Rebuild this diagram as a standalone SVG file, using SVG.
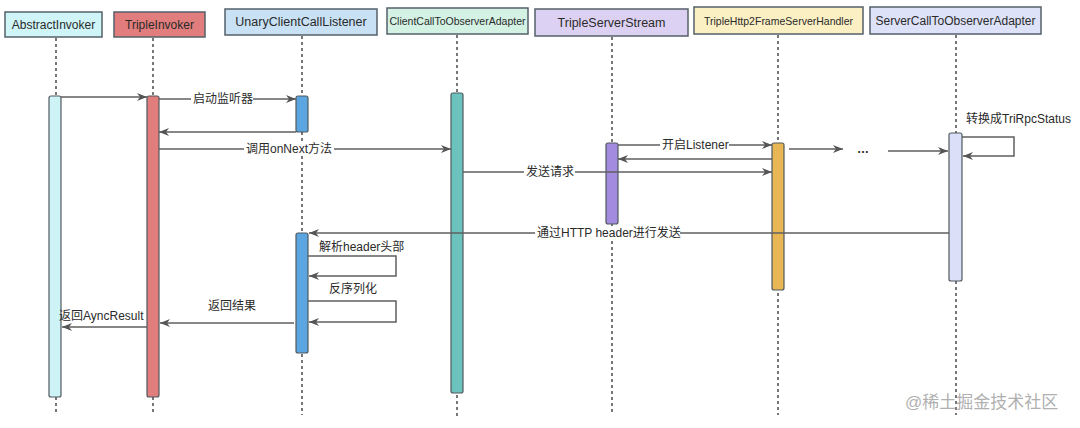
<svg xmlns="http://www.w3.org/2000/svg" width="1080" height="428" viewBox="0 0 1080 428">
<defs>
<marker id="ah" viewBox="0 0 10 10" refX="10" refY="5" markerWidth="10" markerHeight="10" markerUnits="userSpaceOnUse" orient="auto">
<path d="M0,1 L10,5 L0,9 L3,5 Z" fill="#555"/>
</marker>
</defs>
<style>
.hdr{stroke:#56606a;stroke-width:1.5}
.ht{font-family:"Liberation Sans","Noto Sans CJK SC",sans-serif;fill:#2a2a2a;text-anchor:middle;dominant-baseline:central}
.life{stroke:#555;stroke-width:1.6;stroke-dasharray:3,3;fill:none}
.act{stroke:#50595e;stroke-width:1.2}
.msg{stroke:#5f5f5f;stroke-width:1.5;fill:none;marker-end:url(#ah)}
.lbl{font-family:"Liberation Sans","Noto Sans CJK SC",sans-serif;font-size:12px;fill:#2a2a2a;dominant-baseline:central}
.bg{fill:#fff}
</style>
<rect width="1080" height="428" fill="#fff"/>

<g id="lifelines">
<line class="life" x1="56" y1="38" x2="56" y2="96"/><line class="life" x1="56" y1="397" x2="56" y2="412"/>
<line class="life" x1="153" y1="38" x2="153" y2="96"/><line class="life" x1="153" y1="397" x2="153" y2="412"/>
<line class="life" x1="302" y1="36" x2="302" y2="415"/>
<line class="life" x1="457" y1="35" x2="457" y2="418"/>
<line class="life" x1="612" y1="37" x2="612" y2="415"/>
<line class="life" x1="778" y1="35" x2="778" y2="415"/>
<line class="life" x1="956" y1="35" x2="956" y2="415"/>
</g>

<g id="AbstractInvoker">
<rect class="hdr" x="5" y="12" width="97" height="25" fill="#cff5f8"/>
<text class="ht" x="53.5" y="24.5" font-size="12">AbstractInvoker</text>
<rect class="act" x="49" y="96" width="12" height="301" rx="2" fill="#cdf3f7"/>
</g>
<g id="TripleInvoker">
<rect class="hdr" x="114" y="12" width="91" height="25" fill="#e27d7d"/>
<text class="ht" x="159.5" y="24.5" font-size="12">TripleInvoker</text>
<rect class="act" x="147" y="96" width="12" height="301" rx="2" fill="#e27d7d"/>
</g>
<g id="UnaryClientCallListener">
<rect class="hdr" x="225" y="9" width="152" height="26" fill="#c8e1f4"/>
<text class="ht" x="301" y="22" font-size="12.5">UnaryClientCallListener</text>
<rect class="act" x="296" y="96" width="12" height="36" rx="2" fill="#5ba5e0"/>
<rect class="act" x="296" y="233" width="12" height="120" rx="2" fill="#5ba5e0"/>
</g>
<g id="ClientCallToObserverAdapter">
<rect class="hdr" x="387" y="8" width="141" height="26" fill="#d4f2e4"/>
<text class="ht" x="457.5" y="21" font-size="10.5">ClientCallToObserverAdapter</text>
<rect class="act" x="451" y="93" width="12" height="300" rx="2" fill="#6cc3be"/>
</g>
<g id="TripleServerStream">
<rect class="hdr" x="535" y="9" width="153" height="27" fill="#ddd1f3"/>
<text class="ht" x="611.5" y="23" font-size="12.5">TripleServerStream</text>
<rect class="act" x="606" y="143" width="12" height="81" rx="2" fill="#a38be0"/>
</g>
<g id="TripleHttp2FrameServerHandler">
<rect class="hdr" x="694" y="7" width="169" height="27" fill="#fbf0c3"/>
<text class="ht" x="778.5" y="20.5" font-size="10.5">TripleHttp2FrameServerHandler</text>
<rect class="act" x="772" y="143" width="12" height="147" rx="2" fill="#e8b654"/>
</g>
<g id="ServerCallToObserverAdapter">
<rect class="hdr" x="870" y="7" width="171" height="27" fill="#dde2f8"/>
<text class="ht" x="955.5" y="20.5" font-size="12">ServerCallToObserverAdapter</text>
<rect class="act" x="949" y="133" width="13" height="148" rx="2" fill="#dcdff8"/>
</g>

<g id="connectors">
<line class="msg" x1="61" y1="97" x2="147" y2="97"/>
<line class="msg" x1="159" y1="99" x2="296" y2="99"/>
<line class="msg" x1="296" y1="132" x2="159" y2="132"/>
<line class="msg" x1="159" y1="149" x2="451" y2="149"/>
<line class="msg" x1="618" y1="145" x2="772" y2="145"/>
<line class="msg" x1="772" y1="159" x2="618" y2="159"/>
<line class="msg" x1="463" y1="172" x2="772" y2="172"/>
<line class="msg" x1="789" y1="149" x2="843" y2="149"/>
<line class="msg" x1="888" y1="151" x2="948" y2="151"/>
<polyline class="msg" points="962,137 1014,137 1014,156 963,156"/>
<line class="msg" x1="949" y1="233" x2="309" y2="233"/>
<polyline class="msg" points="308,256 396,256 396,276 309,276"/>
<polyline class="msg" points="308,301 396,301 396,322 309,322"/>
<line class="msg" x1="294" y1="323" x2="160" y2="323"/>
<line class="msg" x1="147" y1="327" x2="62" y2="327"/>
</g>

<g id="labels">
<rect class="bg" x="191" y="92" width="62" height="14"/>
<text class="lbl" x="193" y="99">启动监听器</text>
<rect class="bg" x="244" y="142" width="90" height="14"/>
<text class="lbl" x="246" y="149">调用onNext方法</text>
<rect class="bg" x="660" y="138" width="69" height="14"/>
<text class="lbl" x="662" y="145">开启Listener</text>
<rect class="bg" x="524" y="165" width="51" height="14"/>
<text class="lbl" x="526" y="172">发送请求</text>
<rect class="bg" x="535" y="226" width="145" height="14"/>
<text class="lbl" x="537" y="233">通过HTTP header进行发送</text>
<text class="lbl" x="857" y="149" font-size="13" font-weight="bold">…</text>
<text class="lbl" x="966" y="119">转换成TriRpcStatus</text>
<text class="lbl" x="319" y="247">解析header头部</text>
<text class="lbl" x="329" y="289">反序列化</text>
<text class="lbl" x="208" y="306">返回结果</text>
<text class="lbl" x="59" y="316">返回AyncResult</text>
<text x="905" y="408" font-family="Liberation Sans,Noto Sans CJK SC,sans-serif" font-size="17" fill="#b0b0b0">@稀土掘金技术社区</text>
</g>
</svg>
